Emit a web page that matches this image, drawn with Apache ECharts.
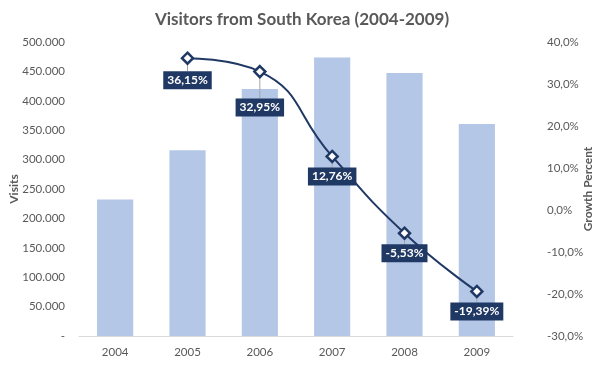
<!DOCTYPE html>
<html><head><meta charset="utf-8">
<script src="https://cdn.jsdelivr.net/npm/echarts@6/dist/echarts.min.js"></script>
<style>html,body{margin:0;padding:0;background:#fff}#c{width:604px;height:367px}</style>
</head><body><div id="c"></div>
<script>
const years = ['2004','2005','2006','2007','2008','2009'];
const visits = [232000, 316000, 420000, 473600, 447400, 360700];
const growth = [null, 36.15, 32.95, 12.76, -5.53, -19.39];
const labelDrop = [0, 22, 36, 20, 20, 20];
const FONT = 'Lato, "Open Sans", sans-serif';
const chart = echarts.init(document.getElementById('c'));
chart.setOption({
  animation: false,
  textStyle: {fontFamily: FONT},
  title: {text: 'Visitors from South Korea (2004-2009)', left: 'center', top: 6,
    textStyle: {fontFamily: FONT, fontSize: 17, fontWeight: 'bold', color: '#595959'}},
  grid: {left: 79, right: 91, top: 42, bottom: 31, containLabel: false, outerBoundsMode: 'none'},
  xAxis: {type: 'category', data: years,
    axisLine: {lineStyle: {color: '#d9d9d9'}}, axisTick: {show: false},
    axisLabel: {color: '#595959', fontSize: 11.5, margin: 10}},
  yAxis: [
    {type: 'value', min: 0, max: 500000, interval: 50000, name: 'Visits', nameLocation: 'middle', nameGap: 59,
     nameMoveOverlap: false,
     nameTextStyle: {color: '#595959', fontSize: 12, fontWeight: 'bold'},
     splitLine: {show: false}, axisLine: {show: false}, axisTick: {show: false},
     axisLabel: {color: '#595959', fontSize: 11.5, margin: 14,
       formatter: v => v === 0 ? '-' : v.toLocaleString('de-DE')}},
    {type: 'value', min: -30, max: 40, interval: 10, name: 'Growth Percent', nameLocation: 'middle', nameGap: 69,
     nameRotate: 90, nameMoveOverlap: false,
     nameTextStyle: {color: '#595959', fontSize: 12, fontWeight: 'bold'},
     splitLine: {show: false}, axisLine: {show: false}, axisTick: {show: false},
     axisLabel: {color: '#595959', fontSize: 11.5, margin: 34,
       formatter: v => v.toFixed(1).replace('.', ',') + '%'}}
  ],
  series: [
    {type: 'bar', data: visits, barWidth: '50%', itemStyle: {color: '#b4c7e7'}},
    {type: 'line', yAxisIndex: 1, data: growth, smooth: true, symbol: 'diamond', symbolSize: 11,
     lineStyle: {color: '#203864', width: 2},
     itemStyle: {color: '#fff', borderColor: '#203864', borderWidth: 2.5},
     label: {show: true, position: 'inside', color: '#fff', fontWeight: 'bold', fontSize: 12,
       backgroundColor: '#203864', padding: [3, 4, 3, 4],
       formatter: p => p.value == null ? '' : p.value.toFixed(2).replace('.', ',') + '%'},
     labelLine: {show: true, lineStyle: {color: '#a6a6a6', width: 1}},
     labelLayout: p => ({dy: labelDrop[p.dataIndex]}),
     z: 5}
  ]
});
</script></body></html>
